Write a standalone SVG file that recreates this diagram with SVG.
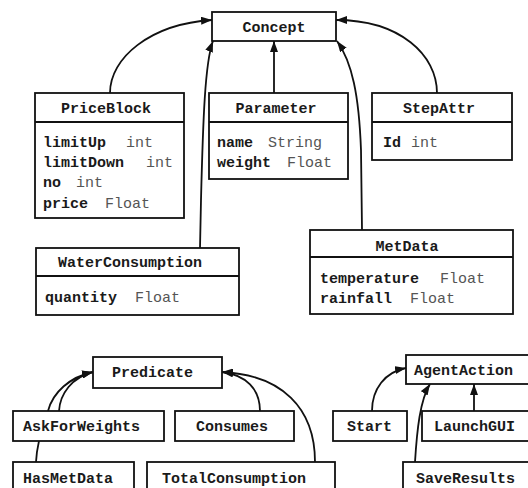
<svg xmlns="http://www.w3.org/2000/svg" width="528" height="488" viewBox="0 0 528 488">
<defs>
<marker id="ah" viewBox="0 0 11 8" refX="11" refY="4" markerWidth="11" markerHeight="8" markerUnits="userSpaceOnUse" orient="auto">
<path d="M0,0 L11,4 L0,8 z" fill="#111"/>
</marker>
<style>
.box{fill:#fff;stroke:#111;stroke-width:1.8}
.div{stroke:#111;stroke-width:1.8}
.t{font-family:"Liberation Mono","Courier New",monospace;font-size:15px;font-weight:bold;fill:#1a1a1a}
.ty{font-family:"Liberation Mono","Courier New",monospace;font-size:15px;font-weight:normal;fill:#555}
.c{fill:none;stroke:#111;stroke-width:1.8;marker-end:url(#ah)}
</style>
</defs>
<rect width="528" height="488" fill="#fff"/>
<g id="connectors">
<path class="c" d="M110,93 C110,58 150,24 212,20"/>
<path class="c" d="M274,93 L274,41"/>
<path class="c" d="M437,93 C437,55 400,20 336,20"/>
<path class="c" d="M200,248 L201,200 C203,120 205,62 213,41"/>
<path class="c" d="M362,230 L361,150 C359,95 352,62 337,41"/>
<path class="c" d="M36,462 C37,440 45,420 48,411 C53,392 70,377 93,372"/>
<path class="c" d="M59,411 C60,394 72,377 93,372"/>
<path class="c" d="M260,411 C260,389 246,375 222,372"/>
<path class="c" d="M315,462 C315,408 282,375 222,372"/>
<path class="c" d="M372,411 C372,389 385,372 406,368"/>
<path class="c" d="M474,411 L474,384"/>
<path class="c" d="M415,462 C417,430 420,400 430,384"/>
</g>
<g id="Concept">
<rect class="box" x="212" y="12" width="124" height="29"/>
<text class="t" x="274" y="32" text-anchor="middle">Concept</text>
</g>
<g id="PriceBlock">
<rect class="box" x="35" y="93" width="149" height="125"/>
<line class="div" x1="35" y1="122" x2="184" y2="122"/>
<text class="t" x="106" y="113" text-anchor="middle">PriceBlock</text>
<text class="t" x="43" y="147">limitUp</text><text class="ty" x="126" y="147">int</text>
<text class="t" x="43" y="167">limitDown</text><text class="ty" x="146" y="167">int</text>
<text class="t" x="43" y="187">no</text><text class="ty" x="76" y="187">int</text>
<text class="t" x="43" y="208">price</text><text class="ty" x="105" y="208">Float</text>
</g>
<g id="Parameter">
<rect class="box" x="209" y="93" width="139" height="86"/>
<line class="div" x1="209" y1="122" x2="348" y2="122"/>
<text class="t" x="276" y="113" text-anchor="middle">Parameter</text>
<text class="t" x="217" y="147">name</text><text class="ty" x="268" y="147">String</text>
<text class="t" x="217" y="167">weight</text><text class="ty" x="287" y="167">Float</text>
</g>
<g id="StepAttr">
<rect class="box" x="372" y="93" width="140" height="67"/>
<line class="div" x1="372" y1="122" x2="512" y2="122"/>
<text class="t" x="439" y="113" text-anchor="middle">StepAttr</text>
<text class="t" x="383" y="147">Id</text><text class="ty" x="411" y="147">int</text>
</g>
<g id="WaterConsumption">
<rect class="box" x="36" y="248" width="203" height="67"/>
<line class="div" x1="36" y1="276" x2="239" y2="276"/>
<text class="t" x="130" y="267" text-anchor="middle">WaterConsumption</text>
<text class="t" x="45" y="302">quantity</text><text class="ty" x="135" y="302">Float</text>
</g>
<g id="MetData">
<rect class="box" x="310" y="230" width="203" height="84"/>
<line class="div" x1="310" y1="257" x2="513" y2="257"/>
<text class="t" x="407" y="251" text-anchor="middle">MetData</text>
<text class="t" x="320" y="283">temperature</text><text class="ty" x="440" y="283">Float</text>
<text class="t" x="320" y="303">rainfall</text><text class="ty" x="410" y="303">Float</text>
</g>
<g id="Predicate">
<rect class="box" x="93" y="357" width="129" height="31"/>
<text class="t" x="112" y="377">Predicate</text>
</g>
<g id="AskForWeights">
<rect class="box" x="13" y="411" width="151" height="30"/>
<text class="t" x="23" y="431">AskForWeights</text>
</g>
<g id="Consumes">
<rect class="box" x="175" y="411" width="119" height="30"/>
<text class="t" x="196" y="431">Consumes</text>
</g>
<g id="HasMetData">
<rect class="box" x="13" y="462" width="121" height="40"/>
<text class="t" x="23" y="483">HasMetData</text>
</g>
<g id="TotalConsumption">
<rect class="box" x="147" y="462" width="188" height="40"/>
<text class="t" x="162" y="483">TotalConsumption</text>
</g>
<g id="AgentAction">
<rect class="box" x="406" y="355" width="134" height="29"/>
<text class="t" x="414" y="375">AgentAction</text>
</g>
<g id="Start">
<rect class="box" x="333" y="411" width="74" height="30"/>
<text class="t" x="347" y="431">Start</text>
</g>
<g id="LaunchGUI">
<rect class="box" x="422" y="411" width="118" height="30"/>
<text class="t" x="434" y="431">LaunchGUI</text>
</g>
<g id="SaveResults">
<rect class="box" x="403" y="462" width="137" height="40"/>
<text class="t" x="416" y="483">SaveResults</text>
</g>
</svg>
